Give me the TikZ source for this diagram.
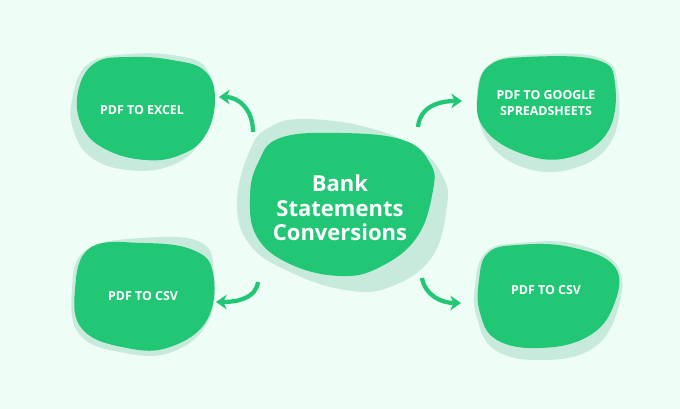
\documentclass[tikz,border=0pt]{standalone}
\usepackage{fontspec}
\setmainfont{Open Sans}
\usepackage{xcolor}
\usetikzlibrary{arrows.meta,positioning}

\definecolor{bgmint}{HTML}{EEFDF5}
\definecolor{blobgreen}{HTML}{21C774}
\definecolor{blobshade}{HTML}{C8EADC}

\begin{document}
\begin{tikzpicture}[x=0.75pt, y=-0.75pt,
  blob/.style={fill=blobgreen},
  blobshadow/.style={fill=blobshade},
  lbl/.style={text=white, font=\bfseries\fontsize{9.3}{12}\selectfont, align=center},
  bigtxt/.style={text=white, font=\bfseries\fontsize{16.5}{18.5}\selectfont, align=center},
  curvearr/.style={draw=blobgreen, line width=3.2pt,
    -{Stealth[length=8pt,width=11pt,inset=2.5pt]}}]
\fill[bgmint] (0,0) rectangle (680,409);
\useasboundingbox (0,0) rectangle (680,409);

% shadows
\fill[blobshadow] plot[smooth cycle, tension=0.7] coordinates {(72,100) (88,64) (130,54) (178,56) (206,68) (211,100) (200,142) (170,166) (128,170) (92,158) (74,132)};
\fill[blobshadow] plot[smooth cycle, tension=0.7] coordinates {(237,203) (250,150) (270,127) (305,119) (370,128) (420,150) (443,177) (447,205) (432,257) (390,287) (345,290) (290,272) (250,245)};
\fill[blobshadow] plot[smooth cycle, tension=0.7] coordinates {(477,95) (490,64) (530,55) (600,58) (618,88) (612,140) (575,168) (525,168) (487,140)};
\fill[blobshadow] plot[smooth cycle, tension=0.7] coordinates {(72,290) (86,250) (143,238) (200,242) (214,273) (208,322) (172,352) (125,353) (80,335)};
\fill[blobshadow] plot[smooth cycle, tension=0.7] coordinates {(475,285) (486,252) (520,243) (575,244) (618,267) (616,315) (590,350) (540,360) (495,350) (477,318)};

% blobs
\fill[blob] plot[smooth cycle, tension=0.7] coordinates {(78,92) (95,63) (130,57) (172,60) (205,71) (215,100) (205,136) (180,155) (145,160) (105,149) (82,126)};
\fill[blob] plot[smooth cycle, tension=0.7] coordinates {(250,197) (258,163) (280,138) (340,133) (403,140) (430,163) (433,190) (417,237) (380,267) (340,276) (290,264) (257,237)};
\fill[blob] plot[smooth cycle, tension=0.7] coordinates {(478,92) (490,65) (527,57) (597,60) (615,84) (607,133) (567,158) (520,153) (483,127)};
\fill[blob] plot[smooth cycle, tension=0.7] coordinates {(75,290) (90,248) (143,243) (193,250) (213,273) (207,320) (170,347) (127,348) (83,330)};
\fill[blob] plot[smooth cycle, tension=0.7] coordinates {(479,280) (488,253) (517,245) (570,247) (615,267) (613,307) (587,337) (540,348) (497,340) (480,313)};

% labels
\node[bigtxt] (bank) at (340,208) {Bank\\Statements\\Conversions};
\node[lbl] (excel) at (142,110) {PDF TO EXCEL};
\node[lbl] (google) at (546,103) {PDF TO GOOGLE\\SPREADSHEETS};
\node[lbl] (csvl) at (143,296) {PDF TO CSV};
\node[lbl] (csvr) at (546,290) {PDF TO CSV};

% arrow ends
\coordinate (t1) at (253,132); \coordinate (h1) at (219,97);
\coordinate (t2) at (418,127); \coordinate (h2) at (462,101);
\coordinate (t3) at (258,282); \coordinate (h3) at (216,302);
\coordinate (t4) at (422,278); \coordinate (h4) at (461,303);
\draw[curvearr] (t1) .. controls +(0,-22) and +(20,0) .. (h1);
\draw[curvearr] (t2) .. controls +(2,-20) and +(-24,0) .. (h2);
\draw[curvearr] (t3) .. controls +(-2,16) and +(22,0) .. (h3);
\draw[curvearr] (t4) .. controls +(3,17) and +(-20,0) .. (h4);
\end{tikzpicture}
\end{document}
